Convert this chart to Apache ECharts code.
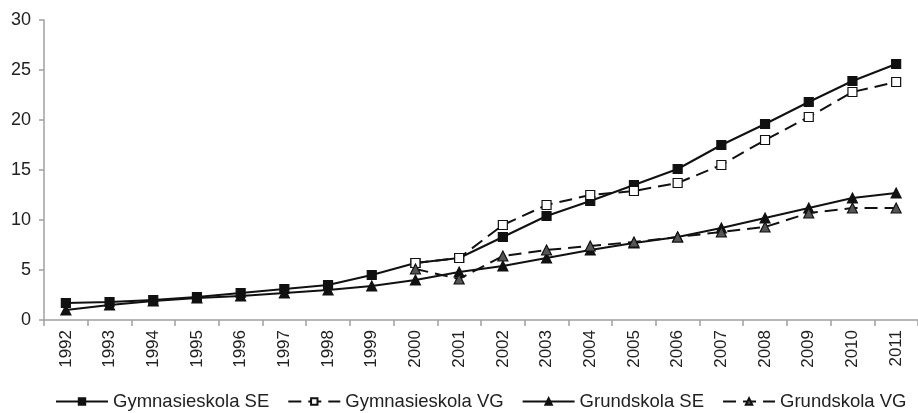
<!DOCTYPE html>
<html>
<head>
<meta charset="utf-8">
<script src="https://cdn.jsdelivr.net/npm/echarts@6/dist/echarts.min.js"></script>
<style>
html,body{margin:0;padding:0;background:#fff;}
#chart{width:918px;height:413px;}
</style>
</head>
<body>
<div id="chart"></div>
<script>
var years = ['1992','1993','1994','1995','1996','1997','1998','1999','2000','2001','2002','2003','2004','2005','2006','2007','2008','2009','2010','2011'];
var yTicks = [0, 5, 10, 15, 20, 25, 30];
var gymSE = [1.7,1.8,2.0,2.3,2.7,3.1,3.5,4.5,5.7,6.2,8.3,10.4,11.9,13.5,15.1,17.5,19.6,21.8,23.9,25.6];
var gymVG = [null,null,null,null,null,null,null,null,5.7,6.2,9.5,11.5,12.5,12.9,13.7,15.5,18.0,20.3,22.8,23.8];
var grundSE = [1.0,1.5,1.9,2.2,2.4,2.7,3.0,3.4,4.0,4.8,5.4,6.2,7.0,7.7,8.3,9.2,10.2,11.2,12.2,12.7];
var grundVG = [null,null,null,null,null,null,null,null,5.1,4.1,6.4,7.0,7.4,7.8,8.3,8.8,9.3,10.7,11.2,11.2];
var names = ['Gymnasieskola SE','Gymnasieskola VG','Grundskola SE','Grundskola VG'];

var chart = echarts.init(document.getElementById('chart'), null, {renderer:'canvas'});
var font = 'Liberation Sans, Arial, sans-serif';
function mk(name, data, symbol, fill, dashed) {
  return {
    name: name, type: 'line', data: data,
    symbol: symbol, symbolSize: symbol === 'rect' ? 9 : 10,
    showAllSymbol: true, connectNulls: false,
    lineStyle: {color: '#111', width: 2, type: dashed ? [13, 7] : 'solid'},
    itemStyle: {color: fill, borderColor: '#111', borderWidth: 1.2},
    emphasis: {disabled: true},
    animation: false
  };
}
chart.setOption({
  backgroundColor: '#fff',
  animation: false,
  grid: {left: 44, right: -6, top: 20, bottom: 93, containLabel: false},
  legend: {
    top: 387, left: 50,
    itemWidth: 52, itemHeight: 8, itemGap: 18,
    textStyle: {fontSize: 18.5, color: '#222', fontFamily: font},
    data: names
  },
  xAxis: {
    type: 'category', data: years, boundaryGap: true,
    axisLine: {lineStyle: {color: '#a0a0a0', width: 1.5}},
    axisTick: {show: true, length: 6, lineStyle: {color: '#a0a0a0', width: 1.5}},
    axisLabel: {rotate: 90, fontSize: 17, color: '#222', fontFamily: font, margin: 10, interval: 0},
    splitLine: {show: false}
  },
  yAxis: {
    type: 'value', min: yTicks[0], max: yTicks[yTicks.length - 1], interval: 5,
    axisLine: {show: true, lineStyle: {color: '#a0a0a0', width: 1.5}},
    axisTick: {show: true, length: 5, lineStyle: {color: '#a0a0a0', width: 1.5}},
    axisLabel: {fontSize: 18, color: '#222', fontFamily: font, margin: 13},
    splitLine: {show: false}
  },
  series: [
    mk(names[0], gymSE, 'rect', '#111', false),
    mk(names[1], gymVG, 'rect', '#fff', true),
    mk(names[2], grundSE, 'triangle', '#111', false),
    mk(names[3], grundVG, 'triangle', '#555', true)
  ]
});
</script>
</body>
</html>
